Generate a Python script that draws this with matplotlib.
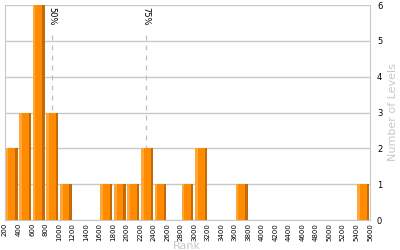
import numpy as np
import matplotlib
matplotlib.use('Agg')
import matplotlib.pyplot as plt

# histogram of ranks, bins of 200
bin_left = [200, 400, 600, 800, 1000, 1200, 1400, 1600, 1800, 2000, 2200, 2400, 2600,
            2800, 3000, 3200, 3400, 3600, 3800, 4000, 4200, 4400, 4600, 4800, 5000,
            5200, 5400]
counts = [2, 3, 6, 3, 1, 0, 0, 1, 1, 1, 2, 1, 0, 1, 2, 0, 0, 1, 0, 0, 0, 0, 0, 0, 0, 0, 1]
percentiles = ['50%', '75%']
percentile_pos = [895, 2285]
bin_w = 200

fig = plt.figure(figsize=(4, 2.5), dpi=100)
ax = fig.add_axes([0.0125, 0.12, 0.9125, 0.86])

x = np.array(bin_left, dtype=float)
c = np.array(counts)
gap = 12
main_w = bin_w - 2 * gap
ax.bar(x + gap, c, width=main_w, align='edge', color='#ff8c00', zorder=3)
ax.bar(x + gap, c, width=main_w * 0.22, align='edge', color='#ffa63a', zorder=4)
ax.bar(x + gap + main_w * 0.80, c, width=main_w * 0.20, align='edge', color='#c46a08', zorder=4)

for lab, p in zip(percentiles, percentile_pos):
    ax.plot([p, p], [0, 5.2], ls=(0, (4, 4)), color='#c0c0c0', lw=0.9, zorder=2)
    ax.text(p, 5.95, lab, rotation=270, ha='center', va='top', fontsize=6, zorder=5)

ax.set_xlim(200, 5600)
ax.set_ylim(0, 6)
ax.set_xticks(np.arange(200, 5601, 200))
ax.set_xticklabels([str(v) for v in range(200, 5601, 200)], rotation=90, fontsize=5)
ax.set_yticks(range(0, 7))
ax.yaxis.tick_right()
ax.yaxis.set_label_position('right')
ax.tick_params(axis='both', length=0, pad=2)
ax.tick_params(axis='y', labelsize=6, pad=5)
ax.grid(axis='y', color='#c8c8c8', lw=1, zorder=1)
for s in ax.spines.values():
    s.set_color('#c8c8c8')
ax.spines['top'].set_visible(False)
fig.text(0.468, 0.035, 'Rank', color='#c8c8c8', fontsize=8, ha='center', va='top')
ax.set_ylabel('Number of Levels', color='#c8c8c8', fontsize=8, labelpad=4)

fig.savefig('out.png', dpi=100)
